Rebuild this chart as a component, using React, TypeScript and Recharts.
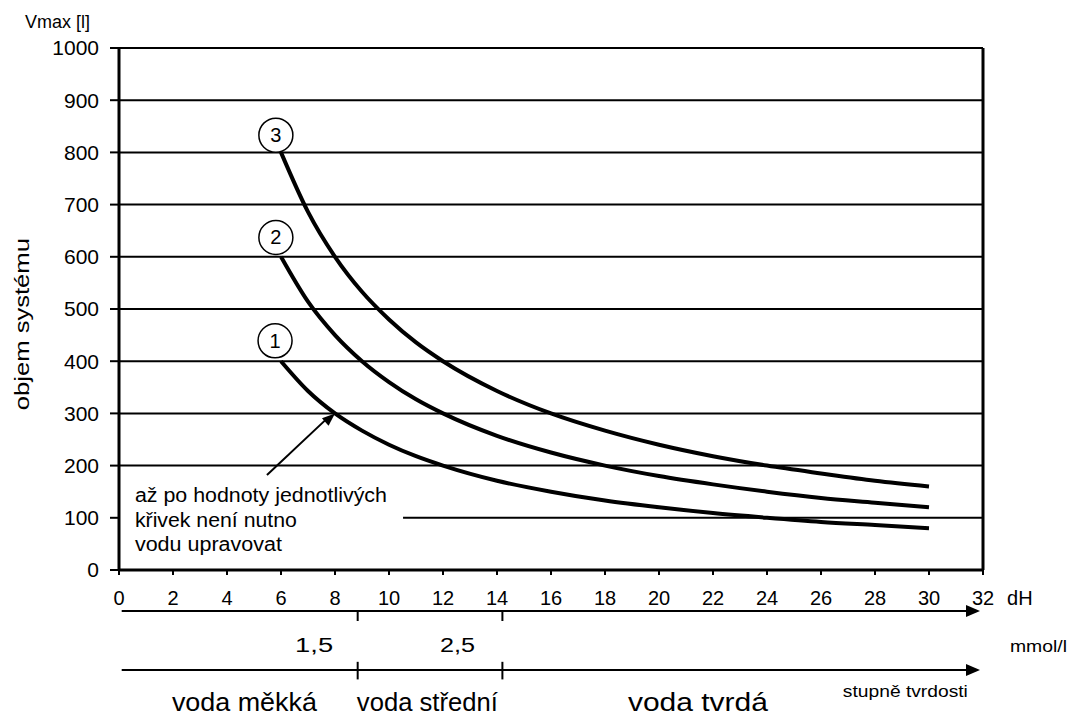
import React from 'react';
import { LineChart, Line, XAxis, YAxis, ReferenceLine, ReferenceDot } from 'recharts';

const FONT = "'Liberation Sans', Arial, Helvetica, sans-serif";

// --- DATA ---
const dH = [6, 7, 8, 9, 10, 11, 12, 14, 16, 18, 20, 22, 24, 26, 28, 30];
const curve1 = [400, 343, 300, 267, 240, 218, 200, 171, 150, 133, 120, 109, 100, 92, 86, 80];
const curve2 = [600, 514, 450, 400, 360, 327, 300, 257, 225, 200, 180, 164, 150, 138, 129, 120];
const curve3 = [800, 686, 600, 533, 480, 436, 400, 343, 300, 267, 240, 218, 200, 185, 171, 160];

const xTicks = [0, 2, 4, 6, 8, 10, 12, 14, 16, 18, 20, 22, 24, 26, 28, 30, 32];
const yTicks = [0, 100, 200, 300, 400, 500, 600, 700, 800, 900, 1000];
const gridValues = [200, 300, 400, 500, 600, 700, 800, 900, 1000];

// hardness class borders (dH) and the mmol/l marks
const classBorders = [8.84, 14.2];
const mmolLabels = [
  { x: 7.93, text: '1,5', len: 38 },
  { x: 13.19, text: '2,5', len: 35 },
];
const classLabels = [
  { x: 1.96, text: 'voda měkká', len: 145 },
  { x: 8.81, text: 'voda střední', len: 141 },
  { x: 18.85, text: 'voda tvrdá', len: 140 },
];
const curveMarks = [
  { x: 5.78, y: 439, text: '1' },
  { x: 5.81, y: 637, text: '2' },
  { x: 5.81, y: 833, text: '3' },
];
const noteLines = [
  { y: 130, text: 'až po hodnoty jednotlivých', len: 252 },
  { y: 82, text: 'křivek není nutno', len: 162 },
  { y: 36, text: 'vodu upravovat', len: 147 },
];

const data = dH.map((x, i) => ({ x, c1: curve1[i], c2: curve2[i], c3: curve3[i] }));

// text placed at a data position
const txt = (key: string, x: number, y: number, text: string, size: number, opts: any = {}) => (
  <ReferenceDot
    key={key}
    x={x}
    y={y}
    r={1}
    ifOverflow="visible"
    shape={(p: any) => (
      <text
        x={p.cx}
        y={p.cy}
        fontSize={size}
        fontFamily={FONT}
        fill="#000"
        textAnchor={opts.anchor || 'start'}
        textLength={opts.len}
        lengthAdjust={opts.len ? 'spacingAndGlyphs' : undefined}
        transform={opts.rotate ? `rotate(${opts.rotate}, ${p.cx}, ${p.cy})` : undefined}
      >
        {text}
      </text>
    )}
  />
);

const arrowHead = (key: string, x: number, y: number, angle: number, len: number, half: number) => (
  <ReferenceDot
    key={key}
    x={x}
    y={y}
    r={1}
    ifOverflow="visible"
    shape={(p: any) => (
      <polygon
        points={`${p.cx},${p.cy} ${p.cx - len},${p.cy - half} ${p.cx - len},${p.cy + half}`}
        fill="#000"
        transform={`rotate(${angle}, ${p.cx}, ${p.cy})`}
      />
    )}
  />
);

export default function App() {
  return (
    <div style={{ position: 'absolute', left: 0, top: 0, width: 1067, height: 718, background: '#fff' }}>
      <LineChart
        width={1067}
        height={718}
        data={data}
        margin={{ top: 48, right: 84, bottom: 118, left: 59 }}
        style={{ fontFamily: FONT }}
      >
        <XAxis
          dataKey="x"
          type="number"
          domain={[0, 32]}
          ticks={xTicks}
          interval={0}
          allowDataOverflow
          height={30}
          axisLine={{ stroke: '#000', strokeWidth: 3 }}
          tickLine={{ stroke: '#000', strokeWidth: 2 }}
          tickSize={5}
          tickMargin={16}
          tick={{ fill: '#000', fontSize: 20, fontFamily: FONT }}
        />
        <YAxis
          type="number"
          domain={[0, 1000]}
          ticks={yTicks}
          interval={0}
          width={60}
          axisLine={{ stroke: '#000', strokeWidth: 3 }}
          tickLine={{ stroke: '#000', strokeWidth: 2 }}
          tickSize={9}
          tickMargin={11}
          tick={{ fill: '#000', fontSize: 21, fontFamily: FONT }}
        />

        {gridValues.map(v => (
          <ReferenceLine key={`g${v}`} y={v} stroke="#000" strokeWidth={2} />
        ))}
        <ReferenceLine segment={[{ x: 10.52, y: 100 }, { x: 32, y: 100 }]} stroke="#000" strokeWidth={2} />
        <ReferenceLine x={32} stroke="#000" strokeWidth={3} />

        <Line type="monotone" dataKey="c1" stroke="#000" strokeWidth={4} dot={false} isAnimationActive={false} />
        <Line type="monotone" dataKey="c2" stroke="#000" strokeWidth={4} dot={false} isAnimationActive={false} />
        <Line type="monotone" dataKey="c3" stroke="#000" strokeWidth={4} dot={false} isAnimationActive={false} />

        {curveMarks.map(m => (
          <ReferenceDot
            key={`m${m.text}`}
            x={m.x}
            y={m.y}
            r={17}
            ifOverflow="visible"
            shape={(p: any) => (
              <g>
                <circle cx={p.cx} cy={p.cy} r={17} fill="#fff" stroke="#000" strokeWidth={1.5} />
                <text x={p.cx} y={p.cy + 7} textAnchor="middle" fontSize={20} fontFamily={FONT} fill="#000">
                  {m.text}
                </text>
              </g>
            )}
          />
        ))}

        {/* note arrow pointing to curve 1 */}
        <ReferenceLine segment={[{ x: 5.48, y: 182 }, { x: 7.7, y: 290 }]} stroke="#000" strokeWidth={2} ifOverflow="visible" />
        {arrowHead('ah0', 8.0, 300, -41.4, 13, 5)}
        {noteLines.map((l, i) => txt(`n${i}`, 0.59, l.y, l.text, 20, { len: l.len }))}

        {/* dH arrow */}
        <ReferenceLine segment={[{ x: 0.1, y: -78.5 }, { x: 31.5, y: -78.5 }]} stroke="#000" strokeWidth={2} ifOverflow="visible" />
        {arrowHead('ah1', 31.89, -78.5, 0, 14, 6)}
        {/* stupne tvrdosti arrow */}
        <ReferenceLine segment={[{ x: 0.1, y: -191.6 }, { x: 31.5, y: -191.6 }]} stroke="#000" strokeWidth={2} ifOverflow="visible" />
        {arrowHead('ah2', 31.89, -191.6, 0, 14, 6)}

        {classBorders.map(b => (
          <ReferenceLine key={`t1${b}`} segment={[{ x: b, y: -78.5 }, { x: b, y: -97.7 }]} stroke="#000" strokeWidth={2} ifOverflow="visible" />
        ))}
        {classBorders.map(b => (
          <ReferenceLine key={`t2${b}`} segment={[{ x: b, y: -175.9 }, { x: b, y: -209.6 }]} stroke="#000" strokeWidth={2} ifOverflow="visible" />
        ))}

        {txt('vmax', -3.48, 1037.5, 'Vmax [l]', 17.5, { len: 65 })}
        {txt('ylab', -3.33, 471, 'objem systému', 20, { anchor: 'middle', len: 172, rotate: -90 })}
        {txt('dh', 32.89, -67, 'dH', 20)}
        {mmolLabels.map(m => txt(`mm${m.text}`, m.x, -157, m.text, 20, { anchor: 'end', len: m.len }))}
        {txt('mmol', 33.0, -157, 'mmol/l', 17, { len: 57 })}
        {txt('stup', 26.81, -243, 'stupně tvrdosti', 17, { len: 125 })}
        {classLabels.map(c => txt(`c${c.text}`, c.x, -270, c.text, 25, { len: c.len }))}
      </LineChart>
    </div>
  );
}
